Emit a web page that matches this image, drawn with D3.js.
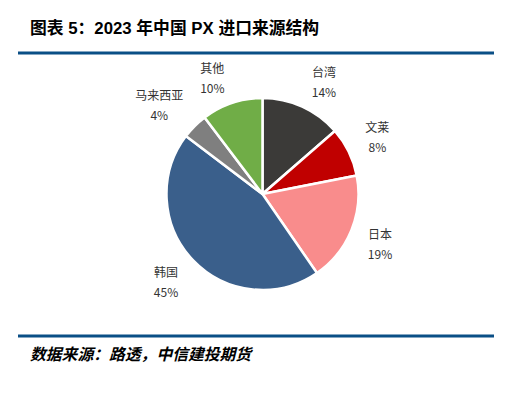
<!DOCTYPE html>
<html>
<head>
<meta charset="utf-8">
<script src="https://cdn.jsdelivr.net/npm/d3@7"></script>
<style>
  body { margin: 0; background: #fff; }
  text { font-family: "Noto Sans CJK SC", "Microsoft YaHei", sans-serif; }
</style>
</head>
<body>
<div id="chart-area"></div>
<script>
// Data
const regions = ['台湾', '文莱', '日本', '韩国', '马来西亚', '其他'];
const shares = [13.6, 8.3, 18.5, 44.9, 4.4, 10.3];
const colors = ['#3b3a38', '#c00000', '#f98c8c', '#3a5f8b', '#7f7f7f', '#70ad47'];

const W = 519, H = 395;
const cx = 262.5, cy = 194, r = 96;

const svg = d3.select('#chart-area')
  .append('svg')
    .attr('width', W)
    .attr('height', H);

// Title
svg.append('text')
  .attr('x', 30)
  .attr('y', 34)
  .attr('font-size', '16.8px')
  .attr('font-weight', 'bold')
  .attr('fill', '#000')
  .style('font-family', '"Liberation Sans", "Noto Sans CJK SC", sans-serif')
  .text('图表 5：2023 年中国 PX 进口来源结构');

// Rules
svg.append('line')
  .attr('x1', 18).attr('x2', 494)
  .attr('y1', 53).attr('y2', 53)
  .attr('stroke', '#0a4f86').attr('stroke-width', 3);

svg.append('line')
  .attr('x1', 18).attr('x2', 494)
  .attr('y1', 336).attr('y2', 336)
  .attr('stroke', '#0a4f86').attr('stroke-width', 3);

// Source
svg.append('text')
  .attr('x', 30)
  .attr('y', 360)
  .attr('font-size', '15.8px')
  .attr('font-weight', 'bold')
  .attr('font-style', 'italic')
  .attr('fill', '#000')
  .text('数据来源：路透，中信建投期货');

// Pie
const pie = d3.pie().sort(null).value(d => d);
const arcs = pie(shares);
const arc = d3.arc().innerRadius(0).outerRadius(r);

const g = svg.append('g')
  .attr('transform', 'translate(' + cx + ', ' + cy + ')');

g.selectAll('path')
  .data(arcs)
  .enter().append('path')
    .attr('d', arc)
    .attr('fill', (d, i) => colors[i])
    .attr('stroke', '#fff')
    .attr('stroke-width', 2.5)
    .attr('stroke-linejoin', 'round');

// Labels (outside end, box pushed away from the pie)
const labelR = 122;
const labels = g.selectAll('g.lbl')
  .data(arcs)
  .enter().append('g')
    .attr('class', 'lbl')
    .attr('transform', (d, i) => {
      const a = (d.startAngle + d.endAngle) / 2;
      const dx = Math.sin(a), dy = -Math.cos(a);
      const halfW = regions[i].length * 6;
      const x = labelR * dx + Math.sign(dx) * halfW * Math.abs(dy);
      const y = labelR * dy + Math.sign(dy) * 4 * Math.abs(dx);
      return 'translate(' + x + ', ' + y + ')';
    });

labels.append('text')
  .attr('y', -4.5)
  .attr('text-anchor', 'middle')
  .attr('font-size', '12px')
  .attr('fill', '#333')
  .text((d, i) => regions[i]);

labels.append('text')
  .attr('y', 15.5)
  .attr('text-anchor', 'middle')
  .attr('font-size', '12px')
  .attr('fill', '#333')
  .text(d => Math.round(d.data) + '%');
</script>
</body>
</html>
